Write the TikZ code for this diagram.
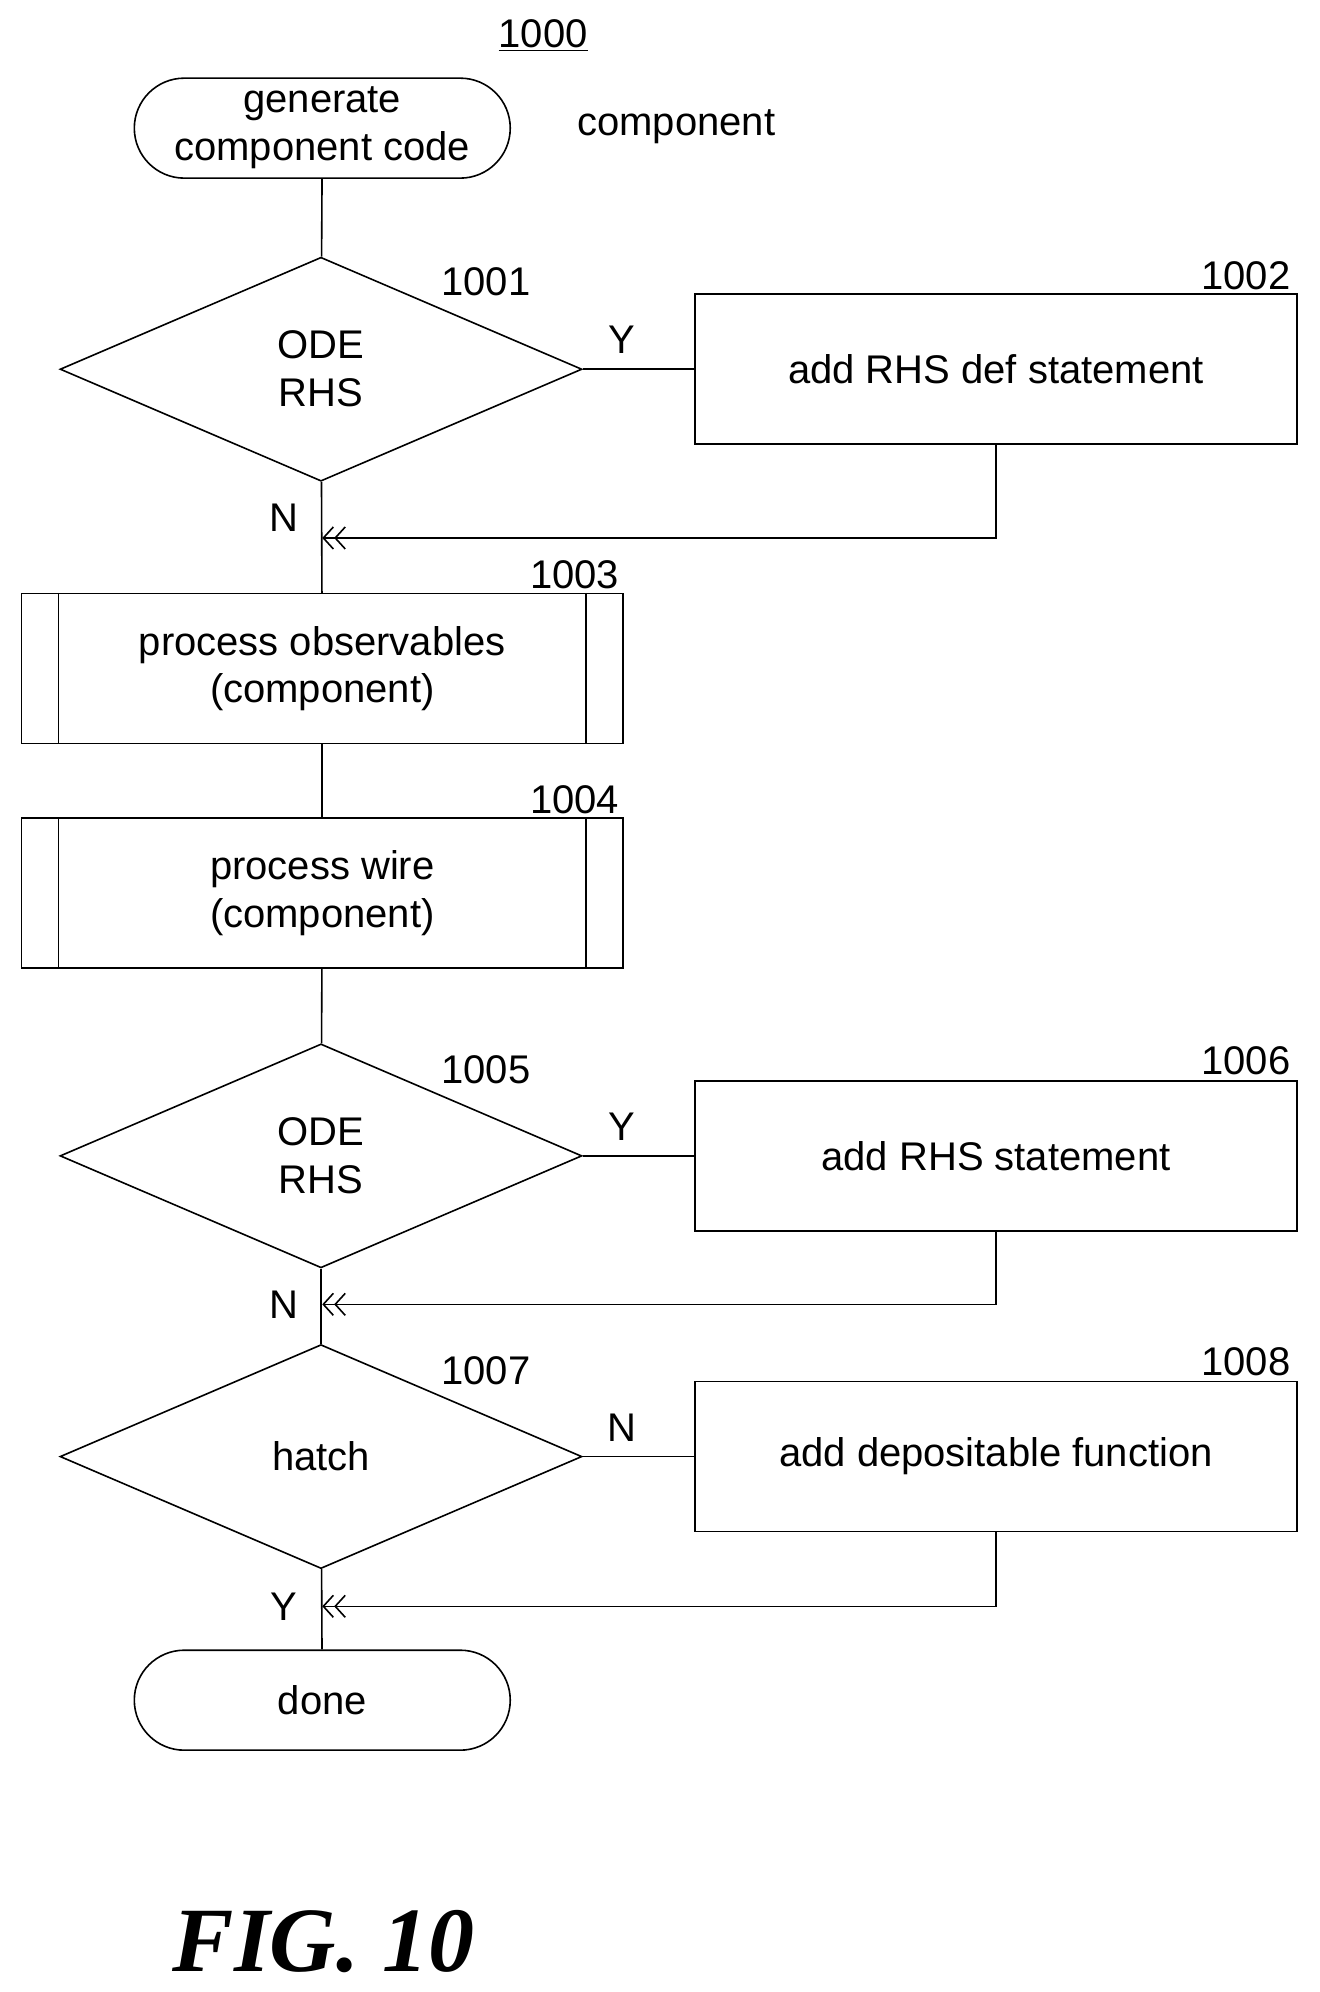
\documentclass[tikz,border=0pt]{standalone}
\usepackage{fontspec}
\setmainfont{Liberation Sans}
\setsansfont{Liberation Sans}
\newfontfamily\figfont{Liberation Serif}
\usetikzlibrary{shapes,arrows.meta,positioning,calc}

\tikzset{
  base/.style={draw, line width=0.8pt, font=\fontsize{20}{24}\selectfont, align=center, inner sep=0pt},
  term/.style={base, rounded rectangle, minimum width=188pt, minimum height=50pt},
  dec/.style={base, diamond, minimum width=261pt, minimum height=112pt, aspect=2.3},
  act/.style={base, rectangle, minimum width=301pt, minimum height=75pt},
  sub/.style={base, rectangle, minimum width=301pt, minimum height=75pt},
  ref/.style={font=\fontsize{20}{24}\selectfont},
  yn/.style={font=\fontsize{20}{24}\selectfont},
  line/.style={line width=0.8pt},
  back/.style={line width=0.8pt, -{Straight Barb[length=5pt,width=11pt]Straight Barb[length=5pt,width=11pt]}}
}

\begin{document}
\begin{tikzpicture}[x=0.6345pt, y=-0.6345pt]
    \useasboundingbox (0,0) rectangle (1040,1570);
    % Nodes
    \node[term] (start) at (254,101) {generate\\component code};
    \node[ref] (n1000) at (428,28) {\underline{1000}};
    \node[ref] (cmp) at (533,100) {component};
    \node[dec] (rhs1) at (253,291) {ODE\\RHS};
    \node[act] (def) at (785,291) {add RHS def statement};
    \node[sub] (obs) at (254,527) {process observables\\(component)};
    \node[sub] (wire) at (254,704) {process wire\\(component)};
    \node[dec] (rhs2) at (253,911) {ODE\\RHS};
    \node[act] (stm) at (785,911) {add RHS statement};
    \node[dec] (hatch) at (253,1148) {hatch};
    \node[act] (dep) at (785,1148) {add depositable function};
    \node[term] (done) at (254,1340) {done};

    % Subroutine bars
    \foreach \s in {obs,wire} {
      \draw[line] ([xshift=19pt]\s.north west) -- ([xshift=19pt]\s.south west);
      \draw[line] ([xshift=-19pt]\s.north east) -- ([xshift=-19pt]\s.south east);
    }

    % Joins
    \coordinate (j1) at (254,424);
    \coordinate (j2) at (254,1028);
    \coordinate (j3) at (254,1266);

    % Arrows
    \draw[line] (start) -- (rhs1);
    \draw[line] (rhs1) -- (def);
    \draw[line] (rhs1) -- (obs);
    \draw[back] (def.south) |- (j1);
    \draw[line] (obs) -- (wire);
    \draw[line] (wire) -- (rhs2);
    \draw[line] (rhs2) -- (stm);
    \draw[line] (rhs2) -- (hatch);
    \draw[back] (stm.south) |- (j2);
    \draw[line] (hatch) -- (dep);
    \draw[line] (hatch) -- (done);
    \draw[back] (dep.south) |- (j3);

    % Labels
    \node[ref] at (383,222) {1001};
    \node[ref] at (982,217) {1002};
    \node[ref] at (453,453) {1003};
    \node[ref] at (453,630) {1004};
    \node[ref] at (383,843) {1005};
    \node[ref] at (982,836) {1006};
    \node[ref] at (383,1080) {1007};
    \node[ref] at (982,1073) {1008};
    \node[yn] at (490,268) {Y};
    \node[yn] at (224,408) {N};
    \node[yn] at (490,888) {Y};
    \node[yn] at (224,1028) {N};
    \node[yn] at (490,1125) {N};
    \node[yn] at (224,1266) {Y};
    \node[font=\fontsize{46}{50}\selectfont\figfont\bfseries\itshape] (fig) at (255,1530) {FIG. 10};
\end{tikzpicture}
\end{document}
